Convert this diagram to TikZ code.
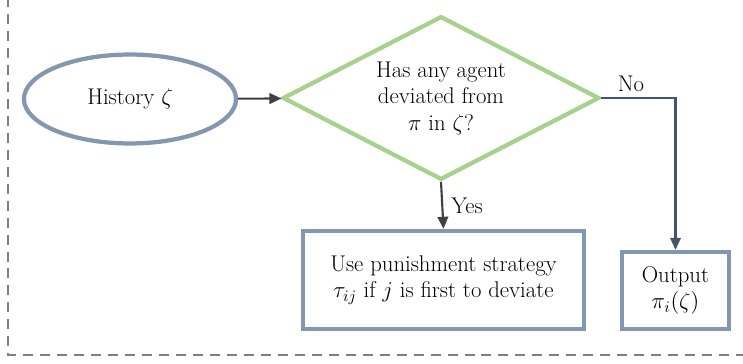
\documentclass[tikz,border=0pt]{standalone}
\usepackage{fix-cm}
\usetikzlibrary{shapes.geometric,arrows.meta}
\definecolor{boxblue}{HTML}{8497B0}
\definecolor{decgreen}{HTML}{A9D18E}
\definecolor{slateline}{HTML}{44546A}
\definecolor{arrowgray}{HTML}{404040}
\definecolor{framegray}{HTML}{7F7F7F}
\tikzstyle{history}=[ellipse,draw=boxblue,line width=2.8pt,minimum width=140pt,minimum height=58.7pt,inner sep=0pt]
\tikzstyle{decision}=[diamond,draw=decgreen,line width=2.8pt,minimum width=209pt,minimum height=108pt,aspect=1.93,inner sep=0pt,align=center]
\tikzstyle{action}=[rectangle,draw=boxblue,line width=2.8pt,inner sep=0pt,align=center]
\tikzstyle{arrowline}=[draw,arrowgray,line width=1.4pt,-{Triangle[length=8pt,width=7pt]}]
\tikzstyle{noline}=[draw,slateline,line width=1.4pt,-{Triangle[length=8pt,width=7pt]}]
\tikzstyle{groupframe}=[draw=framegray,line width=1.7pt,dash pattern=on 6.6pt off 4.6pt]
\tikzstyle{answer}=[text=black]

\begin{document}
\begin{tikzpicture}[x=0.66pt,y=-0.66pt,font=\fontsize{15}{17.5}\selectfont]
    \useasboundingbox (0,0) rectangle (743,364);
    \clip (0,0) rectangle (743,364);

    % the dashed group border, only left and bottom sides show
    \draw[groupframe] (8,-20) -- (8,355) -- (770,355);

    % First we draw the nodes
    \node[history] (hist) at (130,99) {History $\zeta$};
    \node[decision] (dev) at (441,98) {Has any agent\\deviated from\\$\pi$ in $\zeta$?};
    \node[action,minimum width=185.5pt,minimum height=64.7pt] (punish) at (443.5,280)
        {Use punishment strategy\\$\tau_{ij}$ if $j$ is first to deviate};
    \node[action,minimum width=70.6pt,minimum height=50.8pt] (out) at (675.5,290.5)
        {Output\\$\pi_i(\zeta)$};

    % Connect them
    \path[arrowline] (hist) -- (dev);
    \path[arrowline] (dev.south) -- node[answer,right,xshift=2pt] {Yes} (punish.north);
    \path[noline] (dev.east) -| node[answer,above,pos=0.2] {No} (out.north);
\end{tikzpicture}
\end{document}
